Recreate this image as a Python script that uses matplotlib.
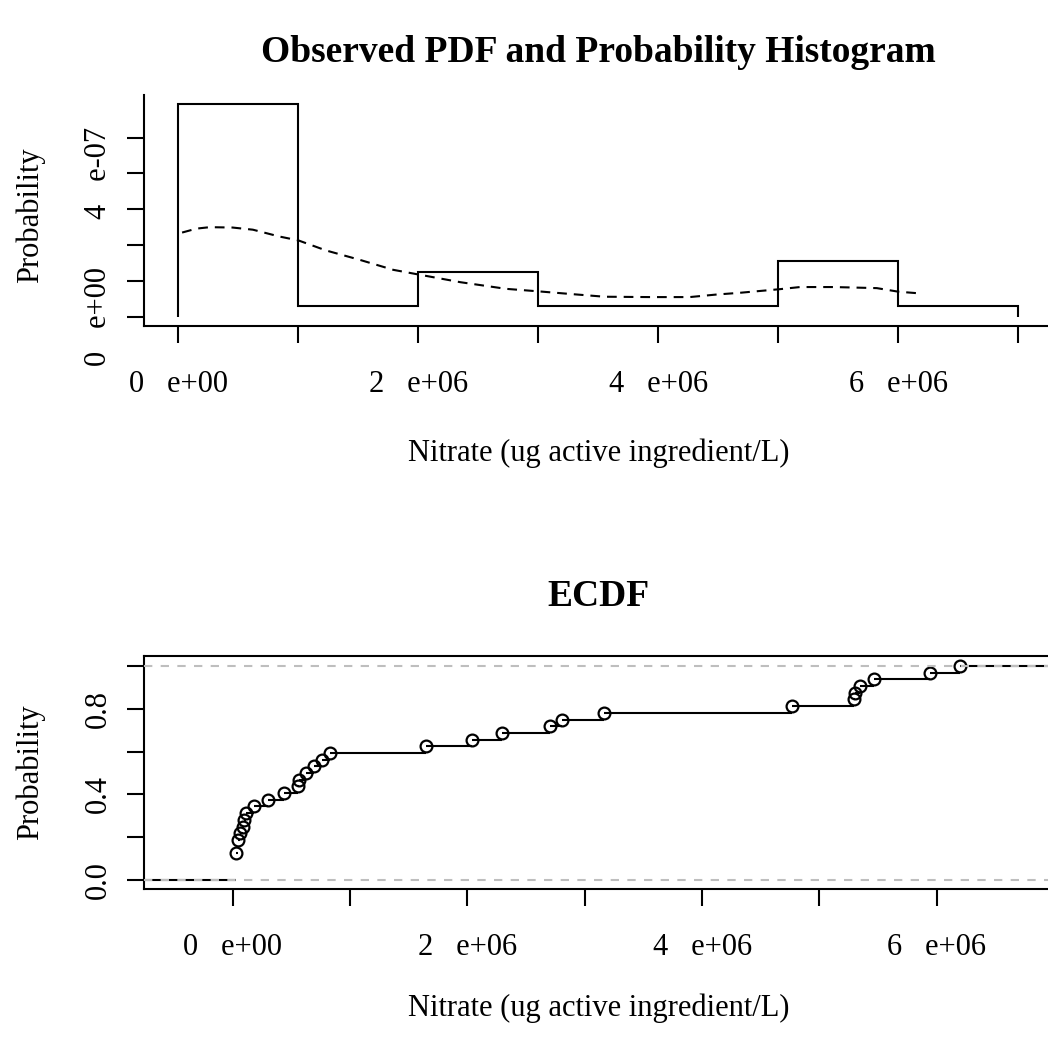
import numpy as np
import matplotlib
matplotlib.use('Agg')
from matplotlib import pyplot as plt

plt.rcParams['font.family'] = ['Liberation Serif', 'DejaVu Serif']
plt.rcParams['lines.scale_dashes'] = False

nitrate = np.array([0.026, 0.026, 0.026, 0.026, 0.043, 0.043, 0.062, 0.090, 0.099,
                    0.111, 0.182, 0.301, 0.435, 0.554, 0.565, 0.625, 0.691, 0.761,
                    0.829, 1.645, 2.037, 2.293, 2.702, 2.805, 3.163, 4.766, 5.295,
                    5.300, 5.348, 5.467, 5.944, 6.194]) * 1e6
bin_edges = np.arange(0, 8e6, 1e6)

# observed pdf (dashed curve)
pdf_x = np.array([0.03, 0.15, 0.26, 0.45, 0.62, 0.84, 1.00, 1.23, 1.51, 1.79, 2.00,
                  2.35, 2.73, 3.00, 3.29, 3.55, 3.93, 4.26, 4.48, 4.68, 5.01, 5.18,
                  5.46, 5.82, 6.00, 6.19]) * 1e6
pdf_y = np.array([2.35, 2.46, 2.50, 2.49, 2.43, 2.24, 2.13, 1.85, 1.59, 1.31, 1.18,
                  0.965, 0.78, 0.71, 0.63, 0.56, 0.55, 0.55, 0.62, 0.67, 0.77, 0.83,
                  0.83, 0.80, 0.70, 0.65]) * 1e-7

xticks = np.arange(0, 8e6, 1e6)
xticklabels = ['0   e+00', '', '2   e+06', '', '4   e+06', '', '6   e+06', '']
top_yticks = np.arange(0, 6e-7, 1e-7)
top_yticklabels = ['0   e+00', '', '', '', '4   e-07', '']
ecdf_yticks = [0, 0.2, 0.4, 0.6, 0.8, 1.0]
ecdf_yticklabels = ['0.0', '', '0.4', '', '0.8', '']
xlab = 'Nitrate (ug active ingredient/L)'

W, H = 1048, 1041
fig = plt.figure(figsize=(W / 100, H / 100), dpi=100)

def box(l, t, r, b):
    return [l / W, 1 - b / H, (r - l) / W, (b - t) / H]

def fpos(x, y):
    return x / W, 1 - y / H

lw = 1.5
fs = 22

def style(ax):
    ax.tick_params(length=12.5, width=lw, pad=10, labelsize=fs, color='k')
    ax.tick_params(axis='x', pad=19)
    for s in ax.spines.values():
        s.set_linewidth(lw)

# --- top: observed pdf + histogram
ax1 = fig.add_axes(box(144, 95, 1052, 326))
ax1.hist(nitrate, bins=bin_edges, density=True, histtype='step', color='k', lw=lw)
ax1.plot(pdf_x, pdf_y, color='k', lw=lw, dashes=(7, 5))
ax1.set_xlim(-0.2875e6, 7.28e6)
ax1.set_ylim(-0.2566e-7, 6.187e-7)
ax1.spines['top'].set_visible(False)
ax1.spines['right'].set_visible(False)
ax1.set_xticks(xticks, xticklabels)
ax1.set_yticks(top_yticks, top_yticklabels, rotation=90, va='center')
style(ax1)

# --- bottom: ecdf
ax2 = fig.add_axes(box(144.3, 656, 1051, 889.3))
ux, cnt = np.unique(nitrate, return_counts=True)
F = np.cumsum(cnt) / len(nitrate)
right = np.append(ux[1:], 1e8)
ax2.hlines(F, ux, right, color='k', lw=lw)
ax2.hlines(0, -1e8, ux[0], color='k', lw=lw)
ax2.plot(ux, F, 'o', mfc='none', mec='k', ms=8.5, mew=1.6)
for h in (0, 1):
    ax2.axhline(h, color='#BEBEBE', lw=lw, dashes=(6, 6), zorder=5)
ax2.set_xlim(-0.753e6, 6.973e6)
ax2.set_ylim(-0.0435, 1.047)
ax2.set_xticks(xticks[:7], xticklabels[:7])
ax2.set_yticks(ecdf_yticks, ecdf_yticklabels, rotation=90, va='center')
style(ax2)

fig.text(*fpos(598, 53), 'Observed PDF and Probability Histogram', ha='center',
         va='center', fontsize=27, fontweight='bold')
fig.text(*fpos(598, 597), 'ECDF', ha='center', va='center', fontsize=27,
         fontweight='bold')
for yy in (461, 1016):
    fig.text(*fpos(599, yy), xlab, ha='center', va='baseline', fontsize=fs)
for yy in (215, 772):
    fig.text(*fpos(30, yy), 'Probability', ha='center', va='center',
             rotation=90, fontsize=fs)

fig.savefig('out.png', dpi=100)
